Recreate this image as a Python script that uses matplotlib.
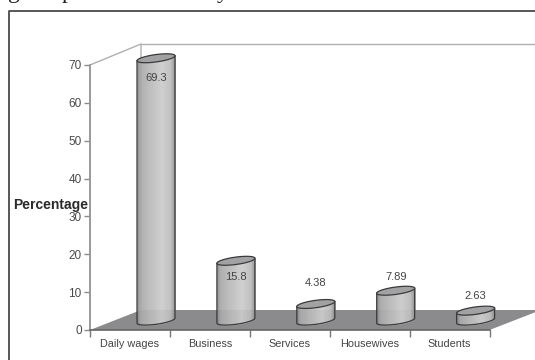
import numpy as np
import matplotlib
matplotlib.use("Agg")
import matplotlib.pyplot as plt
from matplotlib.patches import Polygon

categories = ["Daily wages", "Business", "Services", "Housewives", "Students"]
values = [69.3, 15.8, 4.38, 7.89, 2.63]
value_labels = ["69.3", "15.8", "4.38", "7.89", "2.63"]
y_ticks = [0, 10, 20, 30, 40, 50, 60, 70]
label_shift_px = [20, 16, -21, -14, -15]

W, H = 535, 360
plt.rcParams["font.family"] = "Liberation Sans"
fig = plt.figure(figsize=(W / 100, H / 100), dpi=100, facecolor="white")
L, R, B, T = 90, 489.5, 330, 65
ax = fig.add_axes([L / W, 1 - B / H, (R - L) / W, (B - T) / H])
ax.set_xlim(0, 5)
ax.set_ylim(0, 70)
ax.patch.set_alpha(0)
for s in ax.spines.values():
    s.set_visible(False)

PX = 5 / (R - L)
PY = 70 / (B - T)
def dx(px): return (px - L) * PX
def dy(py): return (B - py) * PY
def fx(x): return x / W
def fy(y): return 1 - y / H

# Outer frame and clipped heading
fig.add_artist(plt.Line2D([fx(9), fx(9), fx(535)], [fy(360), fy(10.5), fy(10.5)],
                          color="#4a4a4a", lw=1.3))
for ch, x in [("g", 14), ("p", 68), ("y", 223)]:
    fig.text(fx(x), fy(-2), ch, family="Liberation Serif", fontsize=17, color="#222222",
             ha="center", va="baseline")

wall = "#b0b0b0"
ax.add_patch(Polygon([(dx(90), dy(330)), (dx(489.5), dy(330)), (dx(541), dy(310)), (dx(141), dy(310))],
                     closed=True, fc="#8b8b8e", ec="none", clip_on=False, zorder=1))
ax.plot([dx(90), dx(141), dx(141)], [dy(65), dy(44), dy(310)], color=wall, lw=1, clip_on=False, zorder=1)
ax.plot([dx(141), dx(536)], [dy(44), dy(44)], color=wall, lw=1, clip_on=False, zorder=1)
ax.plot([dx(90), dx(90)], [dy(65), dy(330)], color="#9a9a9a", lw=1.4, clip_on=False, zorder=2)
ax.plot([dx(90), dx(489.5)], [dy(330), dy(330)], color="#666666", lw=1.2, clip_on=False, zorder=2)

# Cylinders
half = 19 * PX
slant = 2.5 * PY
minor = 3.7 * PY
base = dy(320.6)
center = (156 - L) * PX
stops = [0, .08, .3, .65, .88, 1]
greys = [.52, .66, .72, .80, .74, .55]
N = 38
edge = "#3a3a3a"
for i, v in enumerate(values):
    cx = i + center
    edges = np.linspace(-1, 1, N + 1)
    for k in range(N):
        u0, u1 = edges[k], edges[k + 1]
        xs = np.linspace(u0, u1, 3)
        rim = -np.sqrt(np.clip(1 - xs ** 2, 0, 1)) * minor + xs * slant
        g = np.interp((u0 + u1) / 4 + .5, stops, greys)
        ax.fill_between(cx + xs * half, base + rim, base + v + rim, color=str(g), lw=0.3,
                        clip_on=False, zorder=3)
    t = np.linspace(0, 2 * np.pi, 120)
    ex = cx + half * np.cos(t)
    ey = base + v + slant * np.cos(t) + minor * np.sin(t)
    ax.fill(ex, ey, fc="#a2a2a4", ec=edge, lw=0.9, clip_on=False, zorder=5)
    t2 = np.linspace(np.pi, 2 * np.pi, 60)
    ox = np.r_[cx - half, cx + half * np.cos(t2), cx + half]
    oy = np.r_[base + v - slant, base + slant * np.cos(t2) + minor * np.sin(t2), base + v + slant]
    ax.plot(ox, oy, color=edge, lw=0.9, clip_on=False, zorder=4)
    ax.text(cx, base + v - label_shift_px[i] * PY, value_labels[i], ha="center", va="center",
            fontsize=8, color="#444444", zorder=6, clip_on=False)

# Ticks
ax.set_yticks(y_ticks)
ax.set_xticks(range(6))
ax.set_xticklabels([])
ax.tick_params(axis="y", length=4, width=1, color="#8a8a8a", labelcolor="#4a4a4a",
               labelsize=8.5, pad=2)
ax.tick_params(axis="x", length=5, width=1, color="#777777")
for i, c in enumerate(categories):
    ax.text(i + 0.5, dy(344), c, ha="center", va="center", fontsize=7.8, color="#444444", clip_on=False)
ax.text(dx(88.5), dy(205), "Percentage", ha="right", va="center", fontsize=10,
        fontweight="bold", color="#2a2a2a", clip_on=False, zorder=7)

fig.savefig("out.png", dpi=100)
